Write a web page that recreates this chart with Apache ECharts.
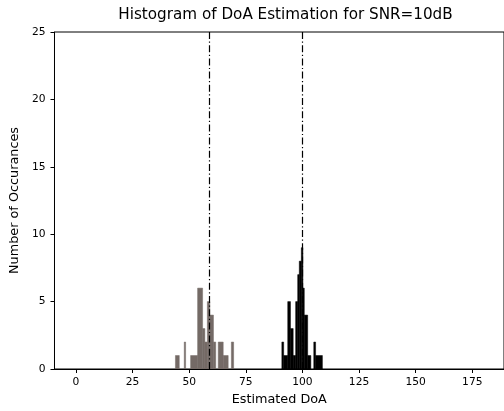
<!DOCTYPE html>
<html>
<head>
<meta charset="utf-8">
<script src="https://cdn.jsdelivr.net/npm/echarts@6/dist/echarts.min.js"></script>
<style>
html,body{margin:0;padding:0;background:#fff;}
#chart{width:504px;height:411px;}
</style>
</head>
<body>
<div id="chart"></div>
<script>
const xTickValues = [0, 25, 50, 75, 100, 125, 150, 175];
const yTickValues = [0, 5, 10, 15, 20, 25];

const grayStart  = [43.9, 47.8, 50.6, 53.7, 55.9, 56.9, 58.0, 59.1, 60.7, 62.8, 65.0, 68.6];
const grayEnd    = [45.6, 48.4, 53.7, 55.9, 56.9, 58.0, 59.1, 60.7, 61.7, 65.0, 67.2, 69.6];
const grayCounts = [1, 2, 1, 6, 3, 2, 5, 4, 2, 2, 1, 2];

const blackStart  = [90.9, 91.7, 93.5, 94.7, 95.9, 97.0, 97.9, 98.6, 99.5, 100.2, 100.8, 102.3, 105.0, 105.8];
const blackEnd    = [91.7, 93.5, 94.7, 95.9, 97.0, 97.9, 98.6, 99.5, 100.2, 100.8, 102.3, 103.7, 105.8, 108.8];
const blackCounts = [2, 1, 5, 3, 1, 5, 7, 8, 9, 6, 4, 1, 2, 1];

const trueDoA = [58.7, 100];

const FONT = 'DejaVu Sans';

function renderBar(params, api) {
  const x0 = api.value(0), x1 = api.value(1), h = api.value(2);
  const pTop = api.coord([x0, h]);
  const pBot = api.coord([x1, 0]);
  const c = api.visual('color');
  return {
    type: 'rect',
    shape: { x: pTop[0], y: pTop[1], width: pBot[0] - pTop[0], height: pBot[1] - pTop[1] },
    style: { fill: c, stroke: c, lineWidth: 0.5 }
  };
}

const chart = echarts.init(document.getElementById('chart'), null, { renderer: 'canvas' });
chart.setOption({
  animation: false,
  backgroundColor: '#fff',
  title: {
    text: 'Histogram of DoA Estimation for SNR=10dB',
    left: 280.5,
    textAlign: 'center',
    top: 3,
    textStyle: { fontFamily: FONT, fontSize: 15.2, fontWeight: 'normal', color: '#000' }
  },
  grid: {
    left: 53.3, top: 32, width: 455, height: 338,
    show: true, borderColor: '#000', borderWidth: 1, backgroundColor: 'transparent'
  },
  xAxis: {
    type: 'value', min: -9.5, max: 189,
    name: 'Estimated DoA', nameLocation: 'middle', nameGap: 24,
    nameTextStyle: { fontFamily: FONT, fontSize: 12.8, color: '#000' },
    axisLine: { show: true, onZero: false, lineStyle: { color: '#000', width: 1 } },
    axisTick: { show: true, inside: false, length: 4, customValues: xTickValues, lineStyle: { color: '#000' } },
    axisLabel: { customValues: xTickValues, margin: 8, fontFamily: FONT, fontSize: 10.7, color: '#000' },
    splitLine: { show: false }
  },
  yAxis: {
    type: 'value', min: 0, max: 25, interval: 5,
    name: 'Number of Occurances', nameLocation: 'middle', nameGap: 33,
    nameTextStyle: { fontFamily: FONT, fontSize: 12.8, color: '#000' },
    axisLine: { show: true, onZero: false, lineStyle: { color: '#000', width: 1 } },
    axisTick: { show: true, inside: false, length: 4, lineStyle: { color: '#000' } },
    axisLabel: { margin: 9, fontFamily: FONT, fontSize: 10.7, color: '#000' },
    splitLine: { show: false }
  },
  series: [
    {
      type: 'custom', name: 'gray', renderItem: renderBar, clip: true,
      itemStyle: { color: '#746a66' },
      encode: { x: [0, 1], y: 2 },
      data: grayStart.map((s, i) => [s, grayEnd[i], grayCounts[i]])
    },
    {
      type: 'custom', name: 'black', renderItem: renderBar, clip: true,
      itemStyle: { color: '#000' },
      encode: { x: [0, 1], y: 2 },
      data: blackStart.map((s, i) => [s, blackEnd[i], blackCounts[i]]),
      markLine: {
        silent: true, symbol: ['none', 'none'],
        label: { show: false },
        lineStyle: { color: '#000', width: 1.2, type: [7, 2.5, 1.2, 2.5] },
        data: trueDoA.map(v => ({ xAxis: v }))
      }
    }
  ]
});
</script>
</body>
</html>
